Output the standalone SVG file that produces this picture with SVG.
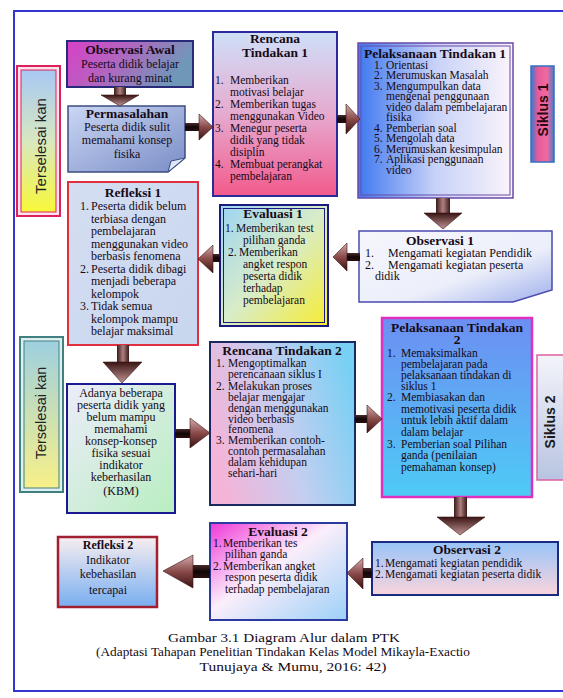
<svg xmlns="http://www.w3.org/2000/svg" width="563" height="698" viewBox="0 0 563 698">
<defs>
<linearGradient id="gObsAwal" x1="0" y1="0" x2="1" y2="0.3"><stop offset="0" stop-color="#d93fc7"/><stop offset="0.45" stop-color="#b464c0"/><stop offset="1" stop-color="#6f98b8"/></linearGradient>
<linearGradient id="gPerm" x1="0" y1="0" x2="1" y2="1"><stop offset="0" stop-color="#cad6f4"/><stop offset="1" stop-color="#7a8ec6"/></linearGradient>
<linearGradient id="gRen1" x1="0" y1="0" x2="0" y2="1"><stop offset="0" stop-color="#cfe0f8"/><stop offset="0.5" stop-color="#e6aad0"/><stop offset="1" stop-color="#f25a8c"/></linearGradient>
<linearGradient id="gPel1" x1="0" y1="0" x2="1" y2="0"><stop offset="0" stop-color="#3f78f0"/><stop offset="0.5" stop-color="#c8d2f8"/><stop offset="1" stop-color="#fbf4fa"/></linearGradient>
<linearGradient id="gSik1" x1="0" y1="0" x2="1" y2="0"><stop offset="0" stop-color="#3a7ad0"/><stop offset="0.3" stop-color="#e85a9a"/><stop offset="0.7" stop-color="#f06aa0"/><stop offset="1" stop-color="#4a7ac8"/></linearGradient>
<linearGradient id="gObs1" x1="0" y1="0" x2="1" y2="1"><stop offset="0" stop-color="#f6f6fc"/><stop offset="0.6" stop-color="#eceffa"/><stop offset="1" stop-color="#a0b0ec"/></linearGradient>
<linearGradient id="gEva1" x1="0" y1="0" x2="1" y2="1"><stop offset="0" stop-color="#9cd4f4"/><stop offset="0.5" stop-color="#d8ecc8"/><stop offset="1" stop-color="#f8ec30"/></linearGradient>
<linearGradient id="gRef1" x1="0" y1="0" x2="1" y2="1"><stop offset="0" stop-color="#d4def2"/><stop offset="1" stop-color="#c8d6ee"/></linearGradient>
<linearGradient id="gTer1" x1="0" y1="0" x2="0" y2="1"><stop offset="0" stop-color="#a8c8f4"/><stop offset="0.5" stop-color="#d8e8c0"/><stop offset="1" stop-color="#f8f838"/></linearGradient>
<linearGradient id="gTer2" x1="0" y1="0" x2="0" y2="1"><stop offset="0" stop-color="#9ed0e0"/><stop offset="1" stop-color="#f8f088"/></linearGradient>
<linearGradient id="gAda" x1="0" y1="0" x2="1" y2="1"><stop offset="0" stop-color="#ececfa"/><stop offset="1" stop-color="#b8eec0"/></linearGradient>
<linearGradient id="gRen2" x1="0" y1="0.6" x2="1" y2="0.3"><stop offset="0" stop-color="#f4b4d8"/><stop offset="0.5" stop-color="#c4cef0"/><stop offset="1" stop-color="#78d0f4"/></linearGradient>
<linearGradient id="gPel2" x1="0" y1="0" x2="0" y2="1"><stop offset="0" stop-color="#6c8ef2"/><stop offset="1" stop-color="#4ecbf6"/></linearGradient>
<linearGradient id="gSik2" x1="0" y1="0" x2="0" y2="1"><stop offset="0" stop-color="#f4f4fa"/><stop offset="1" stop-color="#b8c4e0"/></linearGradient>
<linearGradient id="gObs2" x1="0" y1="0" x2="0" y2="1"><stop offset="0" stop-color="#98c4f8"/><stop offset="1" stop-color="#fad4dc"/></linearGradient>
<linearGradient id="gEva2" x1="0" y1="0" x2="1" y2="1"><stop offset="0" stop-color="#f038d8"/><stop offset="0.45" stop-color="#fbeefa"/><stop offset="1" stop-color="#9cd0f8"/></linearGradient>
<linearGradient id="gRef2" x1="0" y1="0" x2="0" y2="1"><stop offset="0" stop-color="#f8eef0"/><stop offset="1" stop-color="#78aef0"/></linearGradient>
<linearGradient id="gHeadH" x1="0" y1="0" x2="0" y2="1"><stop offset="0" stop-color="#d4acac"/><stop offset="0.5" stop-color="#8a4a4a"/><stop offset="1" stop-color="#3a1212"/></linearGradient>
<linearGradient id="gHeadV" x1="0" y1="0" x2="0" y2="1"><stop offset="0" stop-color="#3a1414"/><stop offset="1" stop-color="#c09494"/></linearGradient>
<linearGradient id="gShaftV" x1="0" y1="0" x2="1" y2="0"><stop offset="0" stop-color="#3a1a1a"/><stop offset="0.5" stop-color="#b08080"/><stop offset="1" stop-color="#3a1a1a"/></linearGradient>
<linearGradient id="gShaftH" x1="0" y1="0" x2="0" y2="1"><stop offset="0" stop-color="#4a2a2a"/><stop offset="0.5" stop-color="#120606"/><stop offset="1" stop-color="#2a1010"/></linearGradient>
</defs>
<style>
.t{font-family:"Liberation Serif","Times New Roman",serif;font-size:12px;fill:#160a16}
.m{font-size:11.5px}
.b{font-weight:bold;font-size:13.5px}
.c{text-anchor:middle}
.s{font-family:"Liberation Sans",Arial,sans-serif}
.hs{fill:url(#gShaftH)}
.vs{fill:url(#gShaftV)}
.hh{fill:url(#gHeadH);stroke:#3a1212;stroke-width:0.6}
.vh{fill:url(#gHeadV);stroke:#3a1212;stroke-width:0.6}
</style>

<rect x="14" y="11" width="560" height="680" fill="none" stroke="#3434d4" stroke-width="2"/>

<g id="terselesaikan1">
<rect x="17" y="66" width="43" height="150" fill="#fbe4ec" stroke="#e0205a" stroke-width="2"/>
<rect x="21" y="70" width="35" height="142" fill="url(#gTer1)" stroke="#e0205a" stroke-width="1"/>
<text class="s" transform="translate(45.5,146) rotate(-90)" text-anchor="middle" font-size="15" fill="#222">Terselesai kan</text>
</g>

<g id="observasi-awal">
<rect x="67" y="41" width="126" height="46" fill="url(#gObsAwal)" stroke="#2a2a7a" stroke-width="2"/>
<text class="t b c" x="130" y="54" font-size="14" fill="#4a0a2a">Observasi Awal</text>
<text class="t c" x="130" y="68" font-size="13.5" fill="#3a0a2a">Peserta didik belajar</text>
<text class="t c" x="130" y="82" font-size="13.5" fill="#3a0a2a">dan kurang minat</text>
</g>

<g id="permasalahan">
<path d="M68,106 H185 V158 L168,172 H68 Z" fill="url(#gPerm)" stroke="#3c4c80" stroke-width="1.5"/>
<path d="M185,158 L168,172 L171,161 Z" fill="#dfe6f8" stroke="#3c4c80" stroke-width="1"/>
<text class="t b c" x="127" y="118" font-size="14">Permasalahan</text>
<text class="t c" x="127" y="131">Peserta didik sulit</text>
<text class="t c" x="127" y="144">memahami konsep</text>
<text class="t c" x="127" y="158">fisika</text>
</g>

<g id="rencana1">
<rect x="213" y="32" width="124" height="164" fill="url(#gRen1)" stroke="#2a2a9a" stroke-width="2"/>
<text class="t b c" x="275" y="43">Rencana</text>
<text class="t b c" x="275" y="57">Tindakan 1</text>
<text class="t m" x="215" y="84">1.</text><text class="t m" x="230" y="84">Memberikan</text>
<text class="t m" x="230" y="96">motivasi belajar</text>
<text class="t m" x="215" y="108">2.</text><text class="t m" x="230" y="108">Memberikan tugas</text>
<text class="t m" x="230" y="120">menggunakan Video</text>
<text class="t m" x="215" y="132">3.</text><text class="t m" x="230" y="132">Menegur  peserta</text>
<text class="t m" x="230" y="144">didik yang tidak</text>
<text class="t m" x="230" y="156">disiplin</text>
<text class="t m" x="215" y="168">4.</text><text class="t m" x="230" y="168">Membuat perangkat</text>
<text class="t m" x="230" y="180">pembelajaran</text>
</g>

<g id="pelaksanaan1">
<rect x="358" y="43" width="155" height="155" fill="url(#gPel1)" stroke="#6a4aa8" stroke-width="1.5"/>
<rect x="361" y="46" width="149" height="149" fill="none" stroke="#6a4aa8" stroke-width="1"/>
<text class="t b c" x="435" y="58" fill="#0a0a3a">Pelaksanaan Tindakan 1</text>
<text class="t m" x="374" y="68.5">1.</text><text class="t m" x="386" y="68.5">Orientasi</text>
<text class="t m" x="374" y="79">2.</text><text class="t m" x="386" y="79">Merumuskan Masalah</text>
<text class="t m" x="374" y="89.5">3.</text><text class="t m" x="386" y="89.5">Mengumpulkan data</text>
<text class="t m" x="386" y="100">mengenai penggunaan</text>
<text class="t m" x="386" y="110.5">video dalam pembelajaran</text>
<text class="t m" x="386" y="121">fisika</text>
<text class="t m" x="374" y="131.5">4.</text><text class="t m" x="386" y="131.5">Pemberian soal</text>
<text class="t m" x="374" y="142">5.</text><text class="t m" x="386" y="142">Mengolah data</text>
<text class="t m" x="374" y="152.5">6.</text><text class="t m" x="386" y="152.5">Merumuskan kesimpulan</text>
<text class="t m" x="374" y="163">7.</text><text class="t m" x="386" y="163">Aplikasi penggunaan</text>
<text class="t m" x="386" y="173.5">video</text>
</g>

<g id="siklus1">
<rect x="531" y="66" width="23" height="96" fill="url(#gSik1)" stroke="#3070c0" stroke-width="1.5"/>
<text class="s" transform="translate(547.5,110) rotate(-90)" text-anchor="middle" font-size="14" font-weight="bold" fill="#2a0a10">Siklus 1</text>
</g>

<g id="observasi1">
<path d="M359,231 H552 V290 L513,302 H359 Z" fill="url(#gObs1)" stroke="#4a4ab0" stroke-width="1.5"/>
<text class="t b c" x="440" y="245" font-size="14">Observasi 1</text>
<text class="t" x="365" y="257">1.</text><text class="t" x="388" y="257">Mengamati kegiatan Pendidik</text>
<text class="t" x="365" y="269">2.</text><text class="t" x="388" y="269">Mengamati kegiatan peserta</text>
<text class="t" x="375" y="280" font-size="10">didik</text>
</g>

<g id="evaluasi1">
<rect x="220" y="205" width="108" height="121" fill="url(#gEva1)" stroke="#1a1a80" stroke-width="2"/>
<rect x="223.5" y="208.5" width="101" height="114" fill="none" stroke="#1a1a80" stroke-width="1"/>
<text class="t b c" x="273" y="218" font-size="14">Evaluasi 1</text>
<text class="t m" x="225" y="232">1.</text><text class="t m" x="236" y="232">Memberikan test</text>
<text class="t m" x="243" y="244">pilihan ganda</text>
<text class="t m" x="228" y="256">2.</text><text class="t m" x="239" y="256">Memberikan</text>
<text class="t m" x="243" y="268">angket respon</text>
<text class="t m" x="243" y="280">peserta didik</text>
<text class="t m" x="243" y="292">terhadap</text>
<text class="t m" x="243" y="304">pembelajaran</text>
</g>

<g id="refleksi1">
<rect x="68" y="182" width="130" height="163" fill="url(#gRef1)" stroke="#e03040" stroke-width="2"/>
<text class="t b c" x="133" y="197" font-size="14">Refleksi 1</text>
<text class="t" x="80" y="210">1.</text><text class="t" x="91" y="210">Peserta didik belum</text>
<text class="t" x="91" y="222.5">terbiasa dengan</text>
<text class="t" x="91" y="235">pembelajaran</text>
<text class="t" x="91" y="247.5">menggunakan video</text>
<text class="t" x="91" y="260">berbasis fenomena</text>
<text class="t" x="80" y="272.5">2.</text><text class="t" x="91" y="272.5">Peserta didik dibagi</text>
<text class="t" x="91" y="285">menjadi beberapa</text>
<text class="t" x="91" y="297.5">kelompok</text>
<text class="t" x="80" y="310">3.</text><text class="t" x="91" y="310">Tidak semua</text>
<text class="t" x="91" y="322.5">kelompok mampu</text>
<text class="t" x="91" y="335">belajar maksimal</text>
</g>

<g id="terselesaikan2">
<rect x="20" y="337" width="43" height="155" fill="#dfeeee" stroke="#408080" stroke-width="2"/>
<rect x="24" y="341" width="35" height="147" fill="url(#gTer2)" stroke="#408080" stroke-width="1"/>
<text class="s" transform="translate(46,413) rotate(-90)" text-anchor="middle" font-size="14.5" fill="#222">Terselesai kan</text>
</g>

<g id="adanya">
<rect x="67" y="384" width="108" height="129" fill="url(#gAda)" stroke="#1a1a90" stroke-width="2"/>
<text class="t c" x="121" y="397">Adanya beberapa</text>
<text class="t c" x="121" y="409">peserta didik yang</text>
<text class="t c" x="121" y="421">belum mampu</text>
<text class="t c" x="121" y="433">memahami</text>
<text class="t c" x="121" y="445">konsep-konsep</text>
<text class="t c" x="121" y="457">fisika sesuai</text>
<text class="t c" x="121" y="469">indikator</text>
<text class="t c" x="121" y="481">keberhasilan</text>
<text class="t c" x="121" y="495">(KBM)</text>
</g>

<g id="rencana2">
<rect x="210" y="342" width="145" height="163" fill="url(#gRen2)" stroke="#1a2a60" stroke-width="2"/>
<text class="t b c" x="282" y="355" font-size="14">Rencana Tindakan 2</text>
<text class="t m" x="216" y="367">1.</text><text class="t m" x="228" y="367">Mengoptimalkan</text>
<text class="t m" x="228" y="378">perencanaan siklus I</text>
<text class="t m" x="216" y="390">2.</text><text class="t m" x="228" y="390">Melakukan proses</text>
<text class="t m" x="228" y="401">belajar mengajar</text>
<text class="t m" x="228" y="412">dengan menggunakan</text>
<text class="t m" x="228" y="422.5">video berbasis</text>
<text class="t m" x="228" y="433">fenomena</text>
<text class="t m" x="216" y="444">3.</text><text class="t m" x="228" y="444">Memberikan contoh-</text>
<text class="t m" x="228" y="455">contoh permasalahan</text>
<text class="t m" x="228" y="466">dalam kehidupan</text>
<text class="t m" x="228" y="477">sehari-hari</text>
</g>

<g id="pelaksanaan2">
<rect x="382" y="318" width="150" height="179" fill="url(#gPel2)" stroke="#e030c0" stroke-width="2.5"/>
<text class="t b c" x="457" y="332" font-size="14">Pelaksanaan  Tindakan</text>
<text class="t b c" x="457" y="344" font-size="14">2</text>
<text class="t m" x="387" y="357">1.</text><text class="t m" x="401" y="357">Memaksimalkan</text>
<text class="t m" x="401" y="368">pembelajaran pada</text>
<text class="t m" x="401" y="379">pelaksanaan tindakan di</text>
<text class="t m" x="401" y="390">siklus 1</text>
<text class="t m" x="387" y="401">2.</text><text class="t m" x="401" y="401">Membiasakan dan</text>
<text class="t m" x="401" y="413">memotivasi peserta didik</text>
<text class="t m" x="401" y="424">untuk lebih aktif dalam</text>
<text class="t m" x="401" y="436">dalam belajar</text>
<text class="t m" x="387" y="448">3.</text><text class="t m" x="401" y="448">Pemberian soal Pilihan</text>
<text class="t m" x="401" y="459">ganda (penilaian</text>
<text class="t m" x="401" y="471">pemahaman konsep)</text>
</g>

<g id="siklus2">
<rect x="537" y="355" width="30" height="125" fill="url(#gSik2)" stroke="#e060a0" stroke-width="1.5"/>
<text class="s" transform="translate(555,422) rotate(-90)" text-anchor="middle" font-size="14" font-weight="bold" fill="#1a1a1a">Siklus 2</text>
</g>

<g id="observasi2">
<rect x="372" y="542" width="186" height="53" fill="url(#gObs2)" stroke="#1a2a80" stroke-width="2"/>
<text class="t b c" x="467" y="554" font-size="14">Observasi 2</text>
<text class="t m" x="375" y="567">1.</text><text class="t m" x="385" y="567">Mengamati kegiatan pendidik</text>
<text class="t m" x="375" y="578">2.</text><text class="t m" x="385" y="578">Mengamati kegiatan peserta didik</text>
</g>

<g id="evaluasi2">
<rect x="210" y="523" width="137" height="97" fill="url(#gEva2)" stroke="#2a3aa0" stroke-width="2"/>
<text class="t b c" x="278" y="536" font-size="14">Evaluasi 2</text>
<text class="t m" x="213" y="547">1.</text><text class="t m" x="223" y="547">Memberikan tes</text>
<text class="t m" x="225" y="558">pilihan ganda</text>
<text class="t m" x="213" y="569.5">2.</text><text class="t m" x="223" y="569.5">Memberikan angket</text>
<text class="t m" x="225" y="581">respon peserta didik</text>
<text class="t m" x="225" y="592.5">terhadap pembelajaran</text>
</g>

<g id="refleksi2">
<rect x="58" y="537" width="99" height="70" fill="url(#gRef2)" stroke="#a02030" stroke-width="2.5"/>
<text class="t c" x="108" y="549" font-size="13" font-weight="bold">Refleksi 2</text>
<text class="t c" x="108" y="564" font-size="14">Indikator</text>
<text class="t c" x="108" y="578" font-size="14">kebehasilan</text>
<text class="t c" x="108" y="594" font-size="14">tercapai</text>
</g>

<g id="connectors">
<rect class="vs" x="114" y="87" width="12" height="9"/><polygon class="vh" points="101,95 139,95 120,106"/>
<rect class="hs" x="185" y="123" width="16" height="8"/><polygon class="hh" points="199,114 213,127 199,140"/>
<rect class="hs" x="337" y="115" width="11" height="8"/><polygon class="hh" points="346,104 360,119 346,134"/>
<rect class="vs" x="436" y="198" width="14" height="16"/><polygon class="vh" points="424,213 462,213 443,229"/>
<rect class="hs" x="346" y="253" width="14" height="8"/><polygon class="hh" points="347,243 333,257 347,271"/>
<rect class="hs" x="212" y="254" width="8" height="8"/><polygon class="hh" points="213,245 198,259 213,273"/>
<rect class="vs" x="117" y="345" width="12" height="18"/><polygon class="vh" points="103,362 142,362 122,383"/>
<rect class="hs" x="175" y="429" width="17" height="9"/><polygon class="hh" points="190,418 210,433 190,448"/>
<rect class="hs" x="355" y="415" width="14" height="8"/><polygon class="hh" points="367,405 382,419 367,433"/>
<rect class="vs" x="454" y="497" width="13" height="21"/><polygon class="vh" points="437,517 485,517 460,535"/>
<rect class="hs" x="361" y="568" width="11" height="10"/><polygon class="hh" points="363,558 347,573 363,589"/>
<rect class="hs" x="191" y="565" width="19" height="13"/><polygon class="hh" points="193,555 163,571 193,588"/>
</g>

<g id="caption">
<text class="t c" x="284" y="642" font-size="13" textLength="232" lengthAdjust="spacingAndGlyphs">Gambar 3.1 Diagram Alur dalam PTK</text>
<text class="t c" x="283" y="656" font-size="13" textLength="374" lengthAdjust="spacingAndGlyphs">(Adaptasi Tahapan Penelitian Tindakan Kelas Model Mikayla-Exactio</text>
<text class="t c" x="293" y="671" font-size="13" textLength="187" lengthAdjust="spacingAndGlyphs">Tunujaya &amp; Mumu, 2016: 42)</text>
</g>
</svg>
